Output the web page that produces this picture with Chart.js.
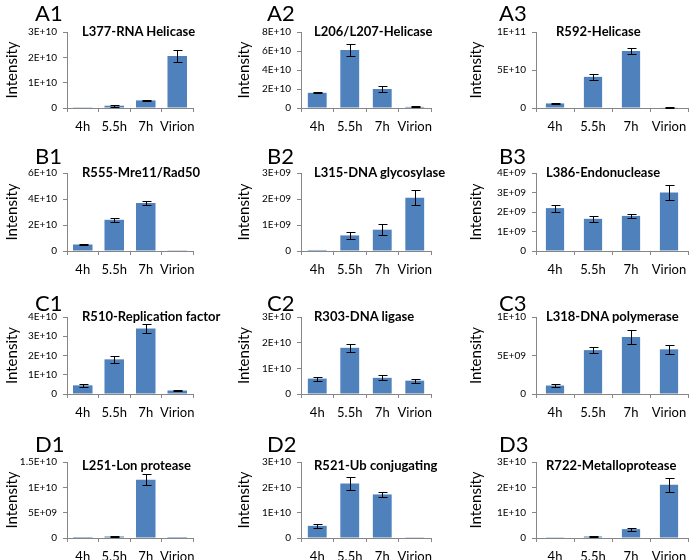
<!DOCTYPE html>
<html><head><meta charset="utf-8">
<script src="https://cdn.jsdelivr.net/npm/chart.js@4"></script>
<style>
body{margin:0;background:#fff;width:696px;height:560px;position:relative;overflow:hidden;font-family:Lato,sans-serif}
canvas{position:absolute}
.txt{position:absolute;white-space:nowrap;color:#000;font-family:Lato,sans-serif}
</style></head><body>
<script>
// ---- data ----
const categories = ['4h', '5.5h', '7h', 'Virion'];
const panelLabels = ['A1','A2','A3','B1','B2','B3','C1','C2','C3','D1','D2','D3'];
const panelTitles = ['L377-RNA Helicase','L206/L207-Helicase','R592-Helicase',
  'R555-Mre11/Rad50','L315-DNA glycosylase','L386-Endonuclease',
  'R510-Replication factor','R303-DNA ligase','L318-DNA polymerase',
  'L251-Lon protease','R521-Ub conjugating','R722-Metalloprotease'];

const a1Values = [3e8, 9e8, 3.0e9, 2.05e10];   const a1Errors = [0, 4e8, 2e8, 2.3e9];
const a2Values = [1.6e10, 6.1e10, 2.0e10, 1.2e9]; const a2Errors = [5e8, 6e9, 3.5e9, 5e8];
const a3Values = [6e9, 4.1e10, 7.5e10, 8e8];   const a3Errors = [8e8, 3.5e9, 4e9, 3e8];
const b1Values = [5e9, 2.4e10, 3.7e10, 6e8];   const b1Errors = [6e8, 1.5e9, 1.5e9, 0];
const b2Values = [4e7, 6e8, 8.2e8, 2.05e9];    const b2Errors = [0, 1.2e8, 2e8, 2.8e8];
const b3Values = [2.2e9, 1.65e9, 1.8e9, 3.0e9]; const b3Errors = [1.8e8, 1.5e8, 1e8, 3.8e8];
const c1Values = [4.5e9, 1.8e10, 3.4e10, 1.8e9]; const c1Errors = [7e8, 1.7e9, 2.5e9, 3e8];
const c2Values = [6e9, 1.8e10, 6.3e9, 5.2e9];  const c2Errors = [8e8, 1.5e9, 1e9, 8e8];
const c3Values = [1.1e9, 5.7e9, 7.4e9, 5.8e9]; const c3Errors = [2e8, 4e8, 9e8, 6e8];
const d1Values = [2e8, 3e8, 1.15e10, 2e8];     const d1Errors = [0, 1e8, 1.1e9, 0];
const d2Values = [4.8e9, 2.15e10, 1.72e10, 3e8]; const d2Errors = [7e8, 2.7e9, 1e9, 0];
const d3Values = [3e8, 6e8, 3.5e9, 2.1e10];    const d3Errors = [0, 1.5e8, 6e8, 2.7e9];

const yMax  = [3e10, 8e10, 1e11, 6e10, 3e9, 4e9, 4e10, 3e10, 1e10, 1.5e10, 3e10, 3e10];
const yStep = [1e10, 2e10, 5e10, 2e10, 1e9, 1e9, 1e10, 1e10, 5e9, 5e9, 1e10, 1e10];

const allValues = [a1Values,a2Values,a3Values,b1Values,b2Values,b3Values,c1Values,c2Values,c3Values,d1Values,d2Values,d3Values];
const allErrors = [a1Errors,a2Errors,a3Errors,b1Errors,b2Errors,b3Errors,c1Errors,c2Errors,c3Errors,d1Errors,d2Errors,d3Errors];

// ---- layout ----
const PW = 232, PH = 140;
const rowTop = [0, 140, 280, 420];
const plotTopRel = [32, 33, 37, 42];
const plotBottomRel = [108, 111, 114, 118];
const labelBaseRel = [22, 25, 32, 33];
const titleBaseRel = [37, 38, 42, 51];
const plotLeftRel = [67, 69, 72];
const plotRightRel = [193, 199, 224];
const barPct = [0.62, 0.58, 0.48];

Chart.defaults.font.family = 'Lato, sans-serif';
Chart.defaults.color = '#000';

function sci(v) {
  if (v === 0) return '0';
  const e = Math.floor(Math.log10(v) + 1e-9);
  const m = Math.round(v / Math.pow(10, e) * 10) / 10;
  return m + 'E+' + String(e).padStart(2, '0');
}

const errorBars = {
  id: 'errorBars',
  afterDatasetsDraw(chart) {
    const ctx = chart.ctx, ys = chart.scales.y;
    chart.data.datasets.forEach((ds, i) => {
      chart.getDatasetMeta(i).data.forEach((bar, j) => {
        const e = ds.errors[j];
        if (!e) return;
        const v = ds.data[j];
        const yT = Math.round(ys.getPixelForValue(v + e)) + 0.5;
        const yB = Math.round(ys.getPixelForValue(Math.max(0, v - e))) + 0.5;
        const x = Math.round(bar.x) + 0.5;
        ctx.save();
        ctx.strokeStyle = '#000'; ctx.lineWidth = 1;
        ctx.beginPath();
        ctx.moveTo(x, yT); ctx.lineTo(x, yB);
        ctx.moveTo(x - 4, yT); ctx.lineTo(x + 5, yT);
        ctx.moveTo(x - 4, yB); ctx.lineTo(x + 5, yB);
        ctx.stroke();
        ctx.restore();
      });
    });
  }
};

function addText(txt, left, baseline, size, weight) {
  const d = document.createElement('div');
  d.className = 'txt';
  d.textContent = txt;
  d.style.fontSize = size + 'px';
  d.style.lineHeight = size + 'px';
  d.style.fontWeight = weight;
  d.style.left = left + 'px';
  d.style.top = (baseline - 0.887 * size) + 'px';
  document.body.appendChild(d);
}

for (let i = 0; i < 12; i++) {
  const r = Math.floor(i / 3), c = i % 3;
  const cv = document.createElement('canvas');
  cv.width = PW; cv.height = PH;
  cv.style.left = (c * PW) + 'px';
  cv.style.top = rowTop[r] + 'px';
  cv.style.width = PW + 'px'; cv.style.height = PH + 'px';
  document.body.appendChild(cv);

  const pl = plotLeftRel[c], pr = plotRightRel[c];
  const pt = plotTopRel[r], pb = plotBottomRel[r];
  const axisGrid = {display: true, drawOnChartArea: false, drawTicks: true, tickLength: 4, color: '#868686'};

  new Chart(cv, {
    type: 'bar',
    data: {
      labels: categories,
      datasets: [{
        data: allValues[i], errors: allErrors[i],
        backgroundColor: '#4F81BD', borderColor: '#5b8dc9', borderWidth: 0,
        barPercentage: barPct[c], categoryPercentage: 1
      }]
    },
    options: {
      responsive: false, animation: false, devicePixelRatio: 1,
      layout: {padding: {left: 0, right: PW - pr, top: pt, bottom: 0}},
      plugins: {legend: {display: false}, tooltip: {enabled: false}, title: {display: false}},
      scales: {
        x: {
          grid: axisGrid, border: {display: true, color: '#868686'},
          ticks: {color: '#000', font: {size: 13}, padding: 7, maxRotation: 0, autoSkip: false},
          afterFit(s) { s.height = PH - pb; }
        },
        y: {
          min: 0, max: yMax[i],
          grid: axisGrid, border: {display: true, color: '#868686'},
          ticks: {stepSize: yStep[i], callback: sci, color: '#000', font: {size: 10}, padding: 6},
          title: {display: true, text: 'Intensity', color: '#000', font: {size: 15}, padding: {top: 3, bottom: 0}},
          afterFit(s) { s.width = pl; }
        }
      }
    },
    plugins: [errorBars]
  });

  addText(panelLabels[i], c * PW + 35, rowTop[r] + labelBaseRel[r], 22, 400);
  addText(panelTitles[i], c * PW + (i === 2 ? 92 : 82), rowTop[r] + titleBaseRel[r], 13, 700);
}
</script>
</body></html>
